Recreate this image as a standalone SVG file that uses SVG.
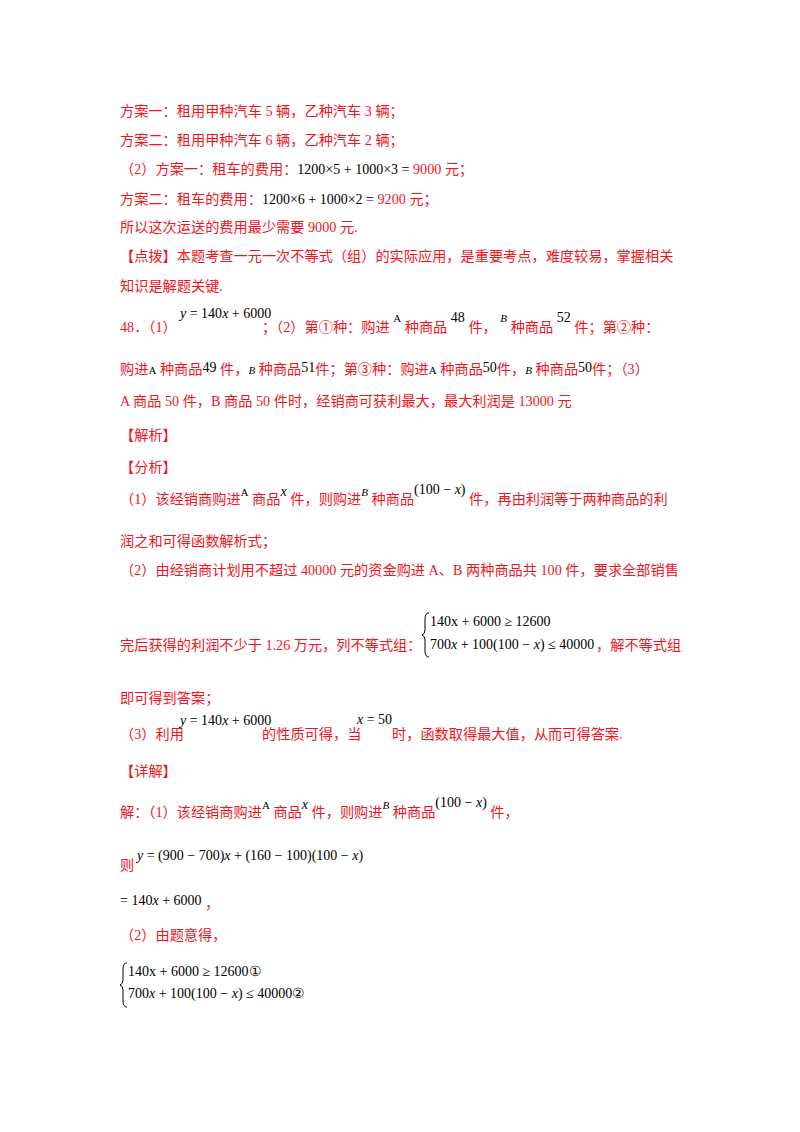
<svg xmlns="http://www.w3.org/2000/svg" width="800" height="1132" viewBox="0 0 800 1132">
<style>
.r{fill:#f0141e;font-family:"Liberation Serif","Noto Sans CJK SC",serif;font-size:14.2px}
.m{fill:#000;font-family:"Liberation Serif",serif;font-size:14px}
.i{font-style:italic}
.s{font-size:11px}
.br{fill:none;stroke:#000;stroke-width:1}
</style>
<rect width="800" height="1132" fill="#fff"/>
<text class="r" x="120" y="116">方案一：租用甲种汽车 5 辆，乙种汽车 3 辆；</text>
<text class="r" x="120" y="145">方案二：租用甲种汽车 6 辆，乙种汽车 2 辆；</text>
<text class="r" x="120" y="174">（2）方案一：租车的费用：<tspan class="m">1200×5 + 1000×3 = </tspan>9000 元；</text>
<text class="r" x="120" y="204">方案二：租车的费用：<tspan class="m">1200×6 + 1000×2 = </tspan>9200 元；</text>
<text class="r" x="120" y="232">所以这次运送的费用最少需要 9000 元.</text>
<text class="r" x="120" y="261">【点拨】本题考查一元一次不等式（组）的实际应用，是重要考点，难度较易，掌握相关</text>
<text class="r" x="120" y="291">知识是解题关键.</text>
<text class="m" x="180" y="318"><tspan class="i">y</tspan> = 140<tspan class="i">x</tspan> + 6000</text>
<text class="r" x="120" y="332">48．（1）</text>
<text class="r" x="262" y="332">；（2）第①种：购进 <tspan class="m s" dy="-10">A</tspan><tspan dy="10"> 种商品 </tspan><tspan class="m" dy="-10">48</tspan><tspan dy="10"> 件， </tspan><tspan class="m s i" dy="-10">B</tspan><tspan dy="10"> 种商品 </tspan><tspan class="m" dy="-10">52</tspan><tspan dy="10"> 件；第②种：</tspan></text>
<text class="r" x="120" y="374">购进<tspan class="m s">A</tspan> 种商品<tspan class="m" dy="-2">49</tspan><tspan dy="2"> 件，</tspan><tspan class="m s i">B</tspan> 种商品<tspan class="m" dy="-2">51</tspan><tspan dy="2">件；第③种：购进</tspan><tspan class="m s">A</tspan> 种商品<tspan class="m" dy="-2">50</tspan><tspan dy="2">件，</tspan><tspan class="m s i">B</tspan> 种商品<tspan class="m" dy="-2">50</tspan><tspan dy="2">件；（3）</tspan></text>
<text class="r" x="120" y="406">A 商品 50 件，B 商品 50 件时，经销商可获利最大，最大利润是 13000 元</text>
<text class="r" x="120" y="440">【解析】</text>
<text class="r" x="120" y="472">【分析】</text>
<text class="r" x="120" y="504">（1）该经销商购进<tspan class="m s" dy="-8">A</tspan><tspan dy="8"> 商品</tspan><tspan class="m i" dy="-8">x</tspan><tspan dy="8"> 件，则购进</tspan><tspan class="m s i" dy="-8">B</tspan><tspan dy="8"> 种商品</tspan><tspan class="m" dy="-10">(100 − <tspan class="i">x</tspan>)</tspan><tspan dy="10"> 件，再由利润等于两种商品的利</tspan></text>
<text class="r" x="120" y="546">润之和可得函数解析式；</text>
<text class="r" x="120" y="575">（2）由经销商计划用不超过 40000 元的资金购进 A、B 两种商品共 100 件，要求全部销售</text>
<path class="br" d="M429,613 Q425,613 425,619 L425,630 Q425,634 422,635 Q425,636 425,640 L425,651 Q425,657 429,657"/>
<text class="m" x="430" y="626">140x + 6000 ≥ 12600</text>
<text class="m" x="430" y="649">700<tspan class="i">x</tspan> + 100(100 − <tspan class="i">x</tspan>) ≤ 40000</text>
<text class="r" x="120" y="650">完后获得的利润不少于 1.26 万元，列不等式组：</text>
<text class="r" x="596" y="650">，解不等式组</text>
<text class="r" x="120" y="703">即可得到答案；</text>
<text class="r" x="120" y="739">（3）利用</text>
<text class="m" x="180" y="725"><tspan class="i">y</tspan> = 140<tspan class="i">x</tspan> + 6000</text>
<text class="r" x="262" y="739">的性质可得，当</text>
<text class="m" x="357" y="724"><tspan class="i">x</tspan> = 50</text>
<text class="r" x="392" y="739">时，函数取得最大值，从而可得答案.</text>
<text class="r" x="120" y="776">【详解】</text>
<text class="r" x="120" y="817">解：（1）该经销商购进<tspan class="m s" dy="-8">A</tspan><tspan dy="8"> 商品</tspan><tspan class="m i" dy="-8">x</tspan><tspan dy="8"> 件，则购进</tspan><tspan class="m s i" dy="-8">B</tspan><tspan dy="8"> 种商品</tspan><tspan class="m" dy="-10">(100 − <tspan class="i">x</tspan>)</tspan><tspan dy="10"> 件，</tspan></text>
<text class="r" x="120" y="870">则</text>
<text class="m" x="137" y="860"><tspan class="i">y</tspan> = (900 − 700)<tspan class="i">x</tspan> + (160 − 100)(100 − <tspan class="i">x</tspan>)</text>
<text class="m" x="120" y="905">= 140<tspan class="i">x</tspan> + 6000</text>
<text class="r" x="205" y="908">，</text>
<text class="r" x="120" y="940">（2）由题意得，</text>
<path class="br" d="M127,963 Q123,963 123,969 L123,980 Q123,984 120,985 Q123,986 123,990 L123,1001 Q123,1007 127,1007"/>
<text class="m" x="128" y="976">140x + 6000 ≥ 12600①</text>
<text class="m" x="128" y="998">700<tspan class="i">x</tspan> + 100(100 − <tspan class="i">x</tspan>) ≤ 40000②</text>
</svg>
